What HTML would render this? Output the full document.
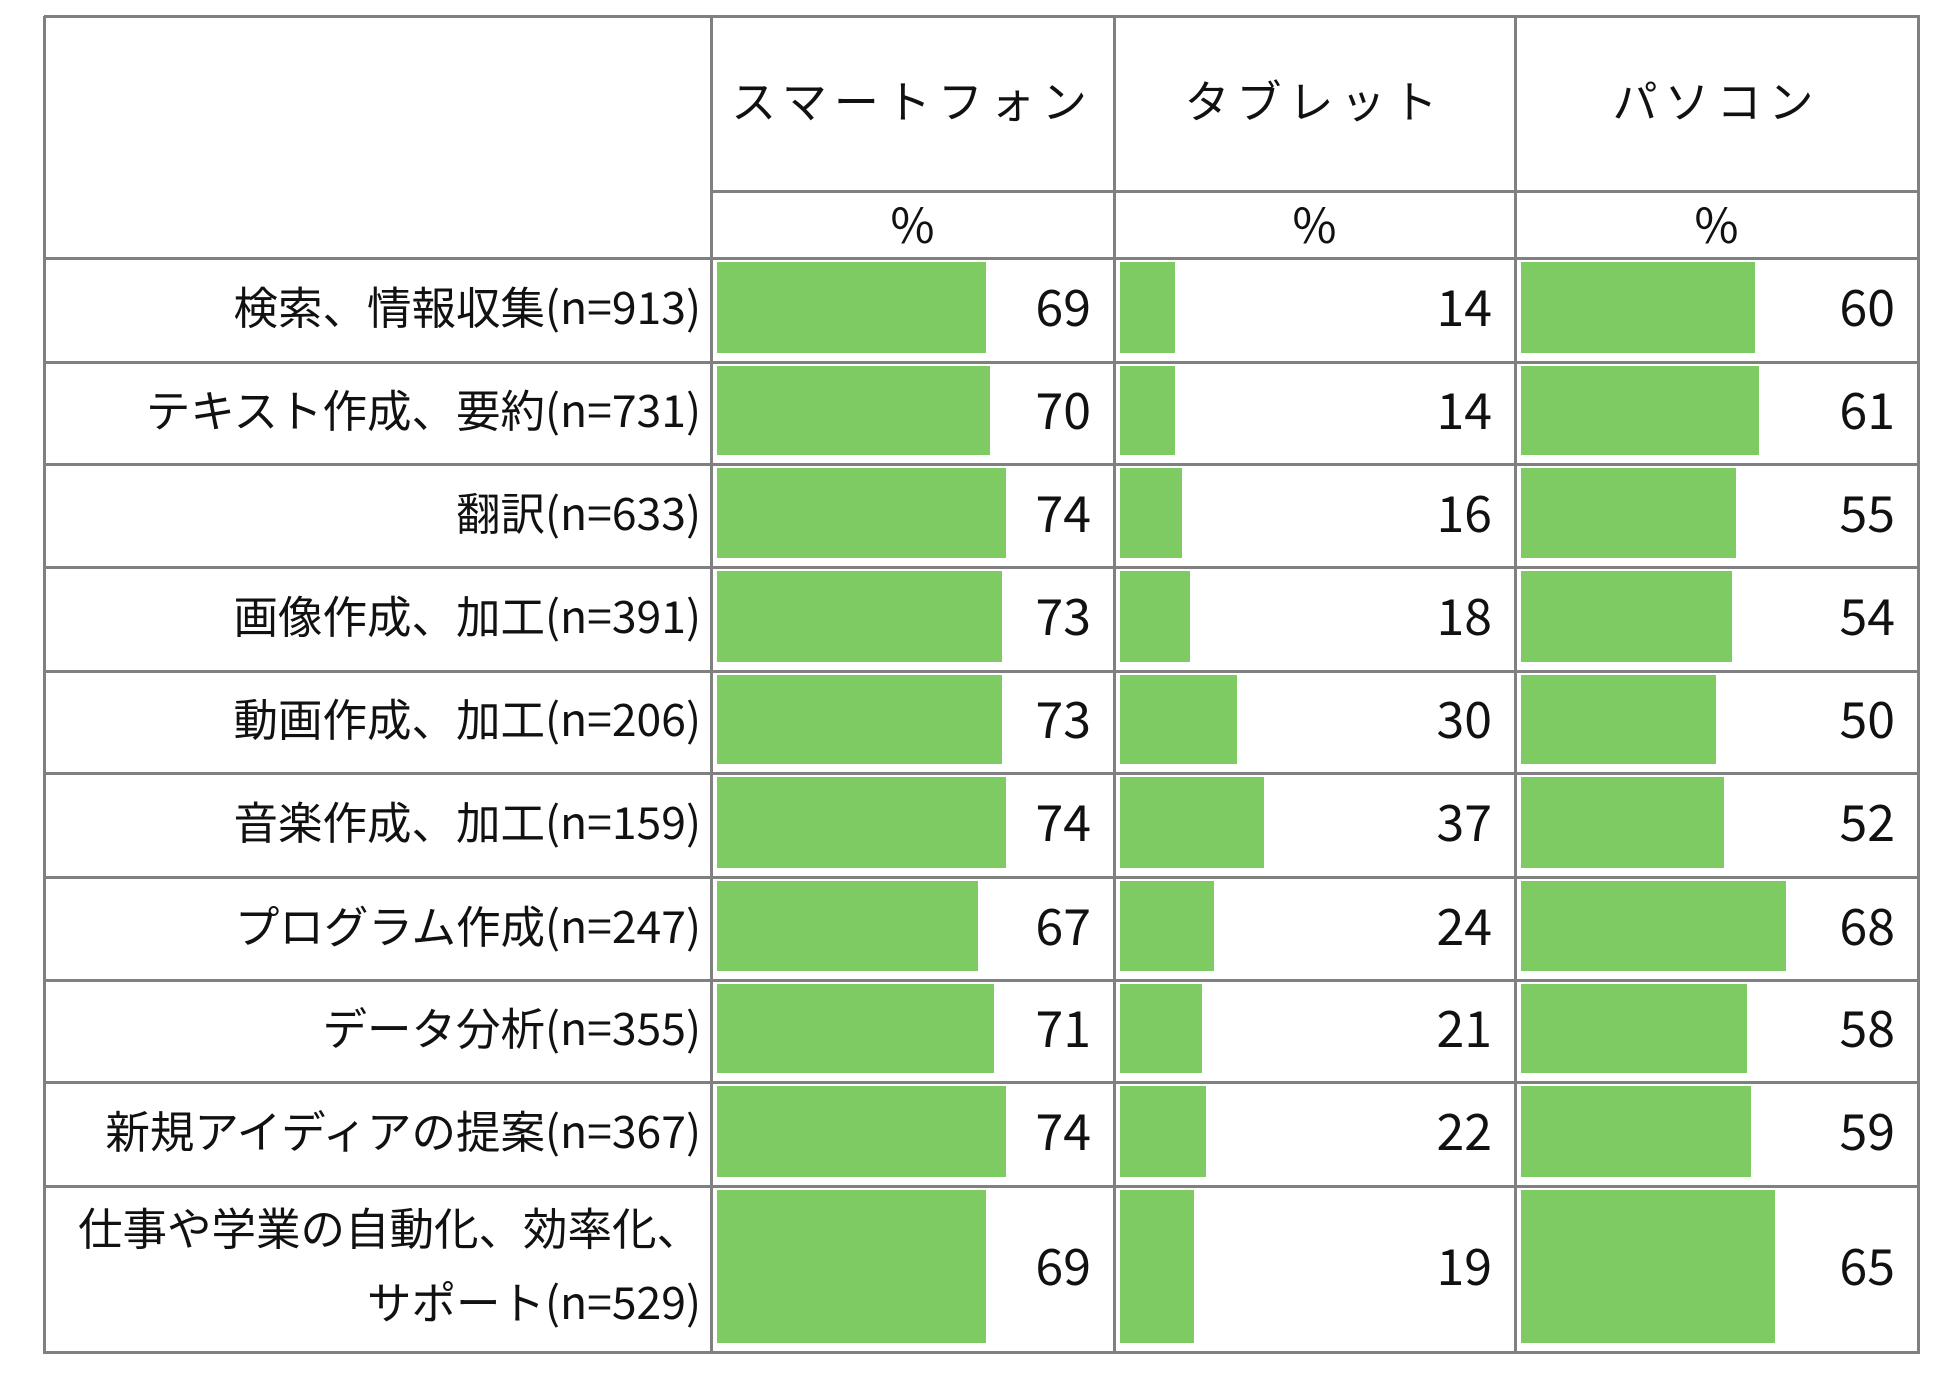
<!DOCTYPE html>
<html><head><meta charset="utf-8"><style>
body{margin:0;width:1953px;height:1397px;background:#fff;position:relative;overflow:hidden;font-family:"Noto Sans CJK JP","Liberation Sans",sans-serif;color:#111}
.l{position:absolute;background:#808080}
.b{position:absolute;background:#7ecb63}
.t{position:absolute;white-space:nowrap;line-height:1}
</style></head><body>
<div id="c"></div>
<script>
const c=document.getElementById('c');let h='';
const L=44,R=1918,T=16,cols=[711,1114,1515];
const rows=[258,362,464,567,671,773,877,980,1082,1186,1352];
const lab=["検索、情報収集(n=913)","テキスト作成、要約(n=731)","翻訳(n=633)","画像作成、加工(n=391)","動画作成、加工(n=206)","音楽作成、加工(n=159)","プログラム作成(n=247)","データ分析(n=355)","新規アイディアの提案(n=367)"];
const d=[[69,14,60],[70,14,61],[74,16,55],[73,18,54],[73,30,50],[74,37,52],[67,24,68],[71,21,58],[74,22,59],[69,19,65]];
const line=(x,y,w,hh)=>h+=`<div class="l" style="left:${x}px;top:${y}px;width:${w}px;height:${hh}px"></div>`;
line(L,T-1,R-L+2,3);line(L-1,T,3,1352-T+2);line(R-1,T,3,1352-T+2);
cols.forEach(x=>line(x-1,T,3,1352-T));
line(711,190,R-711,3);
rows.forEach(y=>line(L,y-1,R-L,3));
const heads=["スマートフォン","タブレット","パソコン"],ends=[1114,1515,1918];
for(let i=0;i<3;i++){const x0=cols[i],x1=ends[i];
h+=`<div class="t" style="left:${x0}px;width:${x1-x0}px;top:76px;text-align:center;font-size:45px;letter-spacing:7px">${heads[i]}</div>`;
h+=`<div class="t" style="left:${x0}px;width:${x1-x0}px;top:198px;text-align:center;font-size:48px">%</div>`;}
const fs=44.5;
for(let r=0;r<10;r++){const y0=rows[r],y1=rows[r+1],mid=(y0+y1)/2;
 if(r<9)h+=`<div class="t" style="right:${1953-701}px;top:${mid-27}px;font-size:${fs}px">${lab[r]}</div>`;
 else{h+=`<div class="t" style="right:${1953-701}px;top:${mid-65}px;font-size:${fs}px">仕事や学業の自動化、効率化、</div>`;
 h+=`<div class="t" style="right:${1953-701}px;top:${mid+9}px;font-size:${fs}px">サポート(n=529)</div>`;}
 for(let i=0;i<3;i++){const v=d[r][i],x=cols[i]+6;
 h+=`<div class="b" style="left:${x}px;top:${y0+4}px;width:${Math.round(v*3.9)}px;height:${y1-y0-13}px"></div>`;
 h+=`<div class="t" style="right:${1953-ends[i]+23}px;top:${mid-30}px;font-size:50px">${v}</div>`;}
}
c.innerHTML=h;
</script>
</body></html>
